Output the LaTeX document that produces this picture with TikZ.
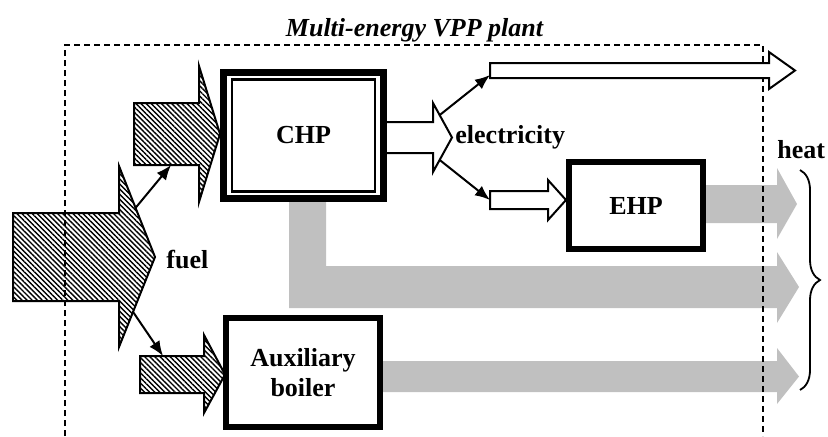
\documentclass[tikz,border=0pt]{standalone}
\usepackage{fontspec}
\setmainfont{Liberation Serif}
\usetikzlibrary{arrows.meta,patterns.meta,decorations.pathreplacing}
\definecolor{heatgray}{RGB}{192,192,192}
\tikzset{
  txt/.style={inner sep=0pt,font=\fontsize{13}{15}\selectfont\bfseries},
  plantbox/.style={draw,fill=white,line width=3pt,inner sep=2pt,align=center,
    font=\fontsize{13}{15}\selectfont\bfseries},
  heatflow/.style={fill=heatgray,draw=none},
  hatched/.style={draw,line width=1pt,line join=miter,
    pattern={Lines[angle=-45,distance=1.8pt,line width=0.7pt]}},
  hollow/.style={draw,fill=white,line width=1pt},
  plantframe/.style={line width=0.75pt,dash pattern=on 3pt off 2pt},
  conn/.style={line width=1pt}
}

\begin{document}
\begin{tikzpicture}[x=0.5pt,y=-0.5pt,>={Latex[length=7.5pt,width=6pt]}]
\useasboundingbox (0,0) rectangle (828,436);
% heat flows
\fill[heatflow] (706,185) -- (777,185) -- (777,168) -- (797,204) -- (777,239) -- (777,223) -- (706,223) -- cycle;
\fill[heatflow] (289,202) -- (326,202) -- (326,266) -- (777,266) -- (777,252) -- (799,287) -- (777,323) -- (777,308) -- (289,308) -- cycle;
\fill[heatflow] (383,361) -- (777,361) -- (777,348) -- (799,376.5) -- (777,404) -- (777,392) -- (383,392) -- cycle;
% plant border
\draw[plantframe] (65,436) -- (65,45) -- (763,45) -- (763,436);
\node[txt,anchor=base] (title) at (414.5,36) {\itshape Multi-energy VPP plant};
% fuel
\draw[hatched] (13,213) -- (119,213) -- (119,166) -- coordinate[pos=.46] (f-up) (155,257)
                -- coordinate[pos=.61] (f-dn) (119,347) -- (119,301) -- (13,301) -- cycle;
\draw[hatched] (134,103) -- (199,103) -- (199,66) -- (220,134) -- (199,202) -- (199,165)
                -- coordinate[pos=.43] (chp-in) (134,165) -- cycle;
\draw[hatched] (140,356) -- coordinate[pos=.36] (aux-in) (204,356) -- (204,335) -- (225,374.5)
                -- (204,413) -- (204,393) -- (140,393) -- cycle;
% electricity
\draw[hollow] (383,122) -- (433,122) -- (433,103) -- coordinate[pos=.35] (e-up) (452,137.5)
                -- coordinate[pos=.65] (e-dn) (433,172) -- (433,153) -- (383,153) -- cycle;
\draw[hollow] (490,63) -- (769,63) -- (769,52) -- (795,70.5) -- (769,89) -- (769,78) -- (490,78) -- cycle;
\draw[hollow] (490,191) -- (548,191) -- (548,180) -- (566,200) -- (548,220) -- (548,209) -- (490,209) -- cycle;
\path
(490,75) coordinate (up-in)
(490,200) coordinate (dn-in)
(303.5,135.5) node[plantbox,line width=3.8pt,minimum width=80pt,minimum height=63pt] (chp) {CHP}
(636,205.5) node[plantbox,minimum width=67pt,minimum height=43.5pt] (ehp) {EHP}
(303,372.5) node[plantbox,minimum width=77pt,minimum height=54.5pt] (aux) {Auxiliary\\boiler}
(166,268) node[txt,anchor=base west] (fuel) {fuel}
(455,143) node[txt,anchor=base west] (elec) {electricity}
(777,158) node[txt,anchor=base west] (heat) {heat};
\node[draw,line width=1.2pt,minimum width=71.5pt,minimum height=56pt] (chp-frame) at (chp.center) {};
\draw[->,conn] (f-up) -- (chp-in);
\draw[->,conn] (f-dn) -- (aux-in);
\draw[->,conn] (e-up) -- (up-in);
\draw[->,conn] (e-dn) -- (dn-in);
\draw[line width=0.9pt,decorate,decoration={brace,amplitude=10pt}] (800,170) -- (800,390);
\end{tikzpicture}
\end{document}
